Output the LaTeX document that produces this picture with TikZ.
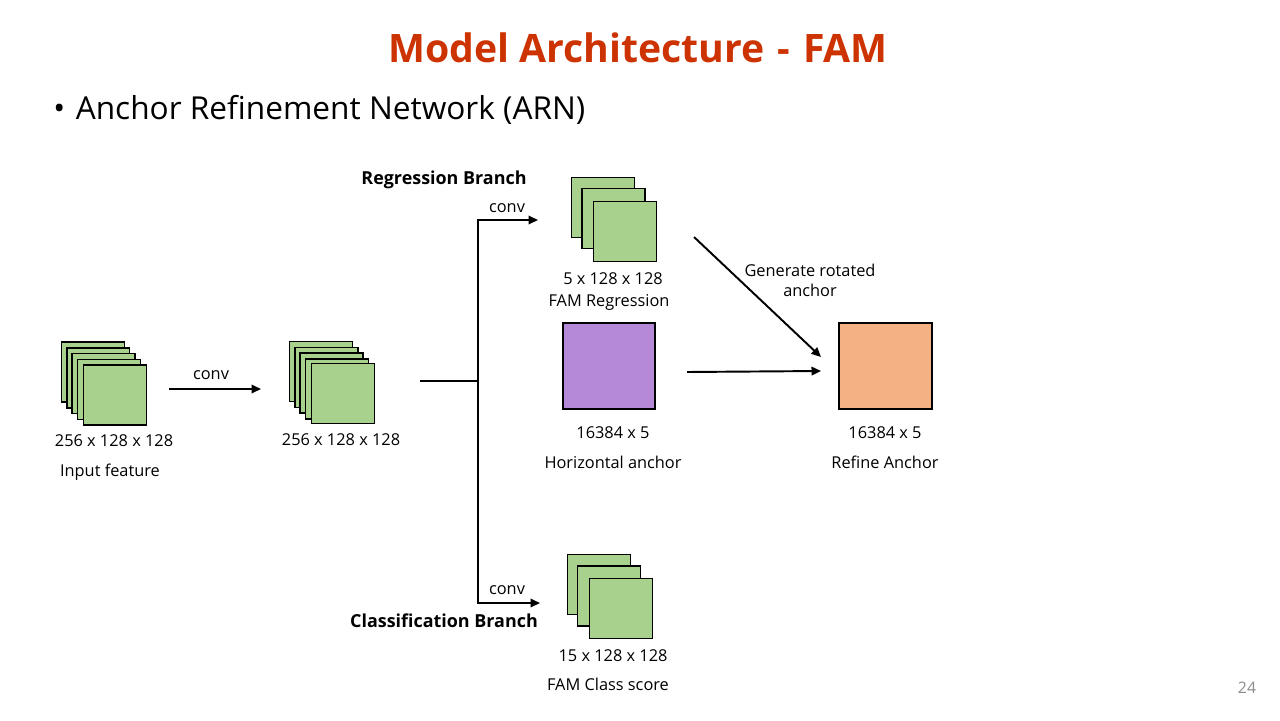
\documentclass[tikz,border=0pt]{standalone}
\usepackage{fontspec}
\setmainfont{Open Sans}
\usetikzlibrary{arrows.meta}
\definecolor{titlered}{RGB}{204,51,0}
\definecolor{boxgreen}{RGB}{169,209,142}
\definecolor{boxpurple}{RGB}{182,136,216}
\definecolor{boxorange}{RGB}{244,177,131}
\definecolor{pagegray}{RGB}{140,140,140}
\tikzset{
  sq/.style={draw=black, line width=0.8pt, inner sep=0pt, minimum width=1.26cm, minimum height=1.2cm, fill=boxgreen},
  bigsq/.style={draw=black, line width=0.8pt, inner sep=0pt, minimum width=1.84cm, minimum height=1.72cm},
  lbl/.style={font=\fontsize{9.3}{11}\selectfont, inner sep=0pt},
  blbl/.style={font=\fontsize{10.2}{12}\selectfont\bfseries, inner sep=0pt},
  arr/.style={line width=1.1pt, -{Triangle[length=1.9mm,width=1.7mm]}},
  ln/.style={line width=1.1pt}
}
\begin{document}
\begin{tikzpicture}[x=0.02cm, y=-0.02cm]
\useasboundingbox[fill=white] (0,0) rectangle (1280,720);
% title
\node[font=\fontsize{22.3}{26}\selectfont\bfseries, text=titlered] (title) at (638,48) {Model Architecture\,\,-\,\,FAM};
\node[font=\fontsize{18}{22}\selectfont, anchor=west, inner sep=0pt] (bullet) at (53,110) {•\,\,Anchor Refinement Network (ARN)};
% input stack
\node[sq] (in1) at (93,372) {};
\node[sq] (in2) at (98.3,377.8) {};
\node[sq] (in3) at (103.6,383.6) {};
\node[sq] (in4) at (108.9,389.4) {};
\node[sq] (in5) at (115,395) {};
\node[lbl] (inl1) at (114,441) {256 x 128 x 128};
\node[lbl] (inl2) at (110,472) {Input feature};
% conv stack
\node[sq] (c1) at (321,371.5) {};
\node[sq] (c2) at (326.3,377.3) {};
\node[sq] (c3) at (331.6,383.1) {};
\node[sq] (c4) at (336.9,388.9) {};
\node[sq] (c5) at (343,393.5) {};
\node[lbl] (cl1) at (341,440) {256 x 128 x 128};
% conv arrow
\coordinate (a1s) at (169,389);
\coordinate (a1e) at (261,389);
\draw[arr] (a1s) -- (a1e);
\node[lbl] (conv1) at (211,375) {conv};
% branch
\coordinate (bs) at (420,381);
\coordinate (bj) at (478,381);
\coordinate (rt) at (538,220);
\coordinate (kb) at (540,603);
\draw[ln] (bs) -- (bj);
\draw[arr] (bj) |- (rt);
\draw[arr] (bj) |- (kb);
\node[lbl] (conv2) at (507,208) {conv};
\node[lbl] (conv3) at (507,590) {conv};
\node[blbl] (regb) at (444,180) {Regression Branch};
\node[blbl] (clsb) at (444,621) {Classification Branch};
% regression stack
\node[sq] (r1) at (603,207.5) {};
\node[sq] (r2) at (613.5,218.5) {};
\node[sq] (r3) at (625,231.5) {};
\node[lbl] (rl1) at (613,279) {5 x 128 x 128};
\node[lbl] (rl2) at (609,302) {FAM Regression};
% classification stack
\node[sq] (k1) at (599,584.5) {};
\node[sq] (k2) at (609,596) {};
\node[sq] (k3) at (621,608.5) {};
\node[lbl] (kl1) at (613,656) {15 x 128 x 128};
\node[lbl] (kl2) at (608,684) {FAM Class score};
% horizontal anchor
\node[bigsq, fill=boxpurple] (horiz) at (609,366) {};
\node[lbl] (hl1) at (613,433) {16384 x 5};
\node[lbl] (hl2) at (613,462) {Horizontal anchor};
% refine anchor
\node[bigsq, minimum width=1.86cm, fill=boxorange] (refine) at (885.5,366) {};
\node[lbl] (fl1) at (885,433) {16384 x 5};
\node[lbl] (fl2) at (885,462) {Refine Anchor};
% arrows to refine
\coordinate (h1) at (687,372);
\coordinate (h2) at (821,371);
\draw[arr] (h1) -- (h2);
\coordinate (d1) at (694,237);
\coordinate (d2) at (821,357);
\draw[arr] (d1) -- (d2);
\node[lbl, align=center, font=\fontsize{9.3}{11.5}\selectfont] (gen) at (810,280) {Generate rotated\\anchor};
% page number
\node[lbl, text=pagegray, font=\fontsize{9}{11}\selectfont] (page) at (1247,688) {24};
\end{tikzpicture}
\end{document}
